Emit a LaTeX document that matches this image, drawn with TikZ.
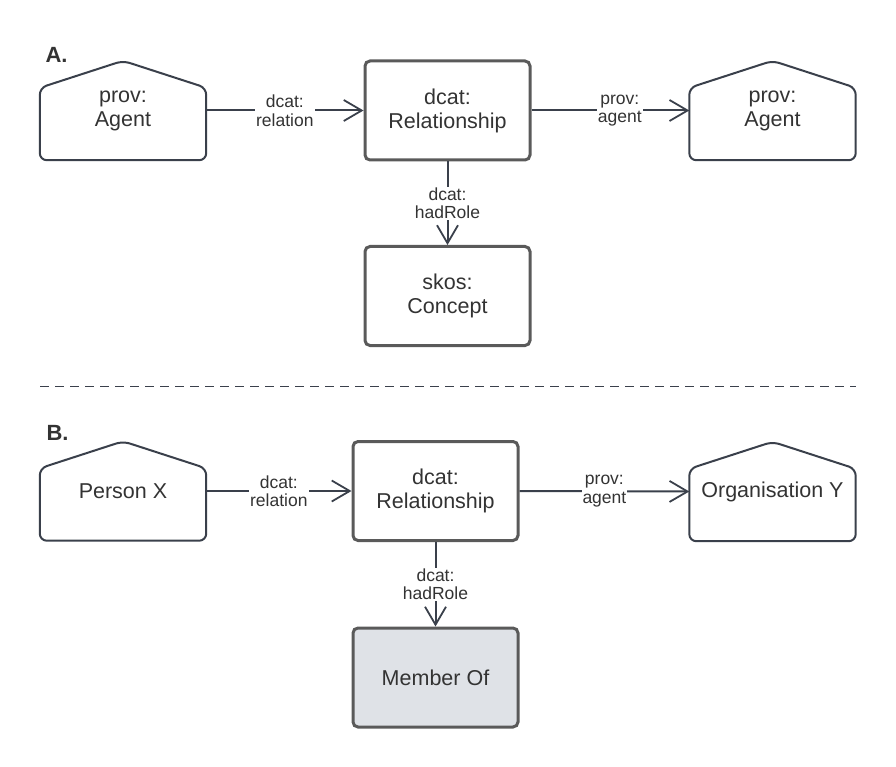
\documentclass[tikz,border=0pt]{standalone}
\usepackage{fontspec}
\setmainfont{Liberation Sans}
\usetikzlibrary{arrows.meta,calc}
\definecolor{edgec}{HTML}{3A404B}
\definecolor{boxc}{HTML}{5A5A5A}
\definecolor{txtc}{HTML}{333333}
\definecolor{memfill}{HTML}{DFE2E7}
\tikzset{
  housebox/.style={draw=none, minimum width=166pt, minimum height=99pt, inner sep=0pt, align=center, font=\fontsize{21.5}{24}\selectfont, text=txtc},
  housepath/.style={draw=edgec, line width=2pt, rounded corners=7pt, line join=round},
  relbox/.style={draw=boxc, line width=3pt, rounded corners=5pt, minimum width=165pt, minimum height=99pt, inner sep=0pt, align=center, font=\fontsize{21.5}{24}\selectfont, text=txtc},
  conn/.style={draw=edgec, line width=2pt, -{Straight Barb[length=18pt,width=21pt,line width=1.8pt]}},
  elabel/.style={fill=white, inner sep=1pt, align=center, font=\fontsize{17.5}{18.5}\selectfont, text=txtc},
  sectlabel/.style={font=\bfseries\fontsize{22}{24}\selectfont, text=txtc, anchor=west},
  sep/.style={draw=edgec, line width=1.5pt, dash pattern=on 9pt off 6pt}
}
\newcommand{\drawhouse}[1]{%
  \draw[housepath] (#1.south west) -- ($(#1.north west)+(0,27)$) -- (#1.north) -- ($(#1.north east)+(0,27)$) -- (#1.south east) -- cycle;}
\begin{document}
\begin{tikzpicture}[x=1pt,y=-1pt]
\useasboundingbox (0,0) rectangle (896,767);
% Section A
\node[sectlabel] (la) at (42,55) {A.};
\node[housebox] (a1) at (123,110.5) {prov:\\Agent};
\drawhouse{a1}
\node[relbox] (r1) at (447.5,110.5) {dcat:\\Relationship};
\node[housebox] (a2) at (772.5,110.5) {prov:\\Agent};
\drawhouse{a2}
\node[relbox] (c1) at (447.5,296) {skos:\\Concept};
\draw[conn] (a1.east) -- node[elabel] (e1) {dcat:\\relation} (r1.west);
\draw[conn] (r1.east) -- node[elabel, pos=0.56] (e2) {prov:\\agent} (a2.west);
\draw[conn] (r1.south) -- node[elabel] (e3) {dcat:\\hadRole} (c1.north);
% separator
\coordinate (s1) at (40,386.5);
\coordinate (s2) at (856,386.5);
\draw[sep] (s1) -- (s2);
% Section B
\node[sectlabel] (lb) at (43,433) {B.};
\node[housebox] (b1) at (123,491) {Person X};
\drawhouse{b1}
\node[relbox] (r2) at (435.5,491) {dcat:\\Relationship};
\node[housebox] (b2) at (772.5,491.5) {Organisation Y};
\drawhouse{b2}
\node[relbox, fill=memfill] (m1) at (435.5,677.5) {Member Of};
\draw[conn] (b1.east) -- node[elabel] (e4) {dcat:\\relation} (r2.west);
\draw[conn] (r2.east) -- node[elabel] (e5) {prov:\\agent} (b2.west);
\draw[conn] (r2.south) -- node[elabel] (e6) {dcat:\\hadRole} (m1.north);
\end{tikzpicture}
\end{document}
